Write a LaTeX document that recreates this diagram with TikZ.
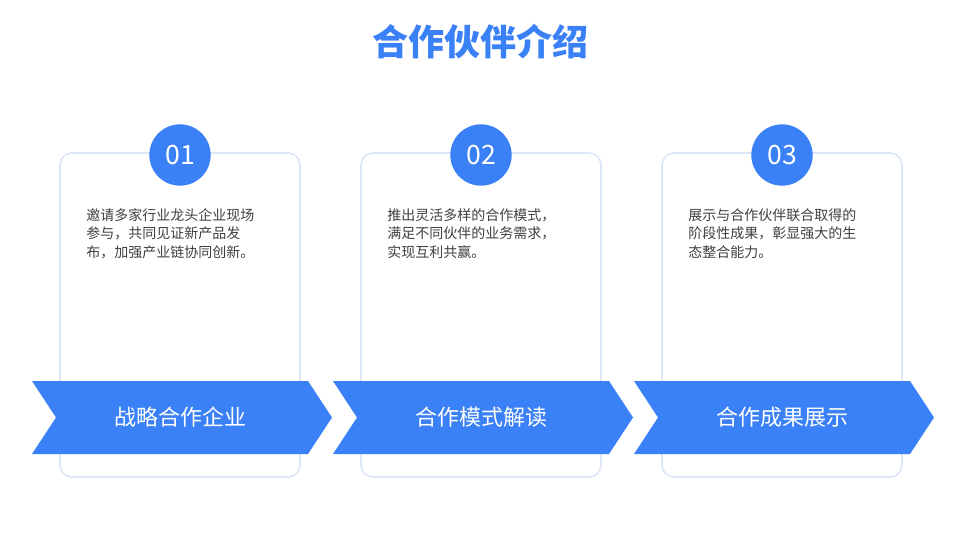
\documentclass[tikz,border=0pt]{standalone}
\usepackage{fontspec}
\setmainfont{Noto Sans CJK SC}
\usetikzlibrary{positioning}
\definecolor{mainblue}{HTML}{3A80F6}
\definecolor{cardline}{HTML}{DCE6F8}
\definecolor{bodytext}{HTML}{404040}
\tikzset{
  card/.style={draw=cardline, line width=1.2pt, fill=white, rounded corners=9pt},
  numdot/.style={circle, fill=mainblue, minimum size=46pt, inner sep=0pt,
    text=white, font=\fontsize{20}{20}\selectfont},
  bodybox/.style={align=left, anchor=north west, inner sep=0pt,
    text=bodytext, font=\fontsize{10.5}{14}\selectfont},
  banner/.style={fill=mainblue},
  bannertext/.style={text=white, font=\fontsize{16.5}{16.5}\selectfont}
}
\begin{document}
\begin{tikzpicture}[x=0.75pt, y=-0.75pt]
  \useasboundingbox (0,0) rectangle (960,540);

  % Title
  \node [text=mainblue, font=\fontsize{27}{27}\selectfont\bfseries] (title) at (480,42) {合作伙伴介绍};

  % Step 1
  \draw [card] (60,153) rectangle (300,477);
  \node [numdot] (n1) at (180,155) {01};
  \node [bodybox] (t1) at (86,208) {邀请多家行业龙头企业现场\\参与，共同见证新产品发\\布，加强产业链协同创新。};
  \fill [banner] (32,381) -- (308,381) -- (332,417.5) -- (308,454) -- (32,454) -- (56,417.5) -- cycle;
  \node [bannertext] (b1) at (180,417.5) {战略合作企业};

  % Step 2
  \draw [card] (361,153) rectangle (601,477);
  \node [numdot] (n2) at (481,155) {02};
  \node [bodybox] (t2) at (387,208) {推出灵活多样的合作模式，\\满足不同伙伴的业务需求，\\实现互利共赢。};
  \fill [banner] (333,381) -- (609,381) -- (633,417.5) -- (609,454) -- (333,454) -- (357,417.5) -- cycle;
  \node [bannertext] (b2) at (481,417.5) {合作模式解读};

  % Step 3
  \draw [card] (662,153) rectangle (902,477);
  \node [numdot] (n3) at (782,155) {03};
  \node [bodybox] (t3) at (688,208) {展示与合作伙伴联合取得的\\阶段性成果，彰显强大的生\\态整合能力。};
  \fill [banner] (634,381) -- (910,381) -- (934,417.5) -- (910,454) -- (634,454) -- (658,417.5) -- cycle;
  \node [bannertext] (b3) at (782,417.5) {合作成果展示};
\end{tikzpicture}
\end{document}
